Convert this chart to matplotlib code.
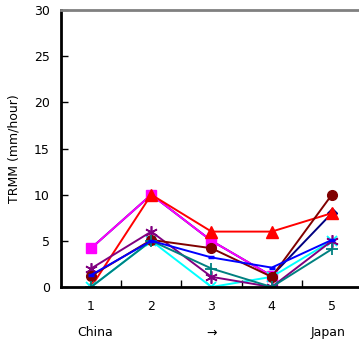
import matplotlib
matplotlib.use("Agg")
import matplotlib.pyplot as plt
import numpy as np

x = [1, 2, 3, 4, 5]
navy = [4.2, 10.0, 5.0, 1.2, 8.0]
magenta = [4.2, 10.0, 5.0, 1.2, np.nan]
red = [0.0, 10.0, 6.0, 6.0, 8.0]
cyan = [0.0, 5.0, 0.0, 1.1, 5.0]
purple = [2.0, 6.0, 1.1, 0.0, 5.0]
maroon = [1.2, 5.1, 4.2, 1.1, 10.0]
teal = [0.0, 5.0, 2.0, 0.0, 4.1]
blue = [1.3, 5.0, 3.2, 2.1, 5.1]
xlabels = ["1", "2", "3", "4", "5"]
yticks = [0, 5, 10, 15, 20, 25, 30]

plt.rcParams['font.family'] = ['DejaVu Sans']
fig = plt.figure(figsize=(3.59, 3.44), dpi=100)
W, H = 359, 344
ax = fig.add_axes([61/W, 1 - 287/H, 301/W, 277/H])

lw = 1.4
ax.plot(x, navy, color='#000080', marker='D', ms=5, lw=lw)
ax.plot(x, magenta, color='#FF00FF', marker='s', ms=7, lw=lw)
ax.plot(x, red, color='#FF0000', marker='^', ms=8, lw=lw)
ax.plot(x, cyan, color='#00FFFF', marker='x', ms=7, mew=1.3, lw=lw)
ax.plot(x, purple, color='#800080', marker=(6, 2, 0), ms=9, mew=1.2, lw=lw)
ax.plot(x, maroon, color='#800000', marker='o', ms=7, lw=lw)
ax.plot(x, teal, color='#008080', marker='+', ms=8, mew=1.3, lw=lw)
ax.plot(x, blue, color='#0000FF', marker='_', ms=5, mew=2.5, lw=lw)

ax.set_xlim(0.5, 5.5)
ax.set_ylim(0, 30)
ax.set_yticks(yticks)
ax.set_xticks([1.5, 2.5, 3.5, 4.5])
ax.set_xticklabels([])
ax.tick_params(axis='x', direction='in', length=5, width=1)
ax.tick_params(axis='y', direction='in', length=5, width=1, labelsize=9, pad=8)
for xi, lab in zip(x, xlabels):
    ax.text(xi, -0.07, lab, transform=ax.get_xaxis_transform(), ha='center', va='center', fontsize=9)
ax.text(1.07, -0.165, "China", transform=ax.get_xaxis_transform(), ha='center', va='center', fontsize=9)
ax.text(3, -0.165, "→", transform=ax.get_xaxis_transform(), ha='center', va='center', fontsize=9)
ax.text(4.93, -0.165, "Japan", transform=ax.get_xaxis_transform(), ha='center', va='center', fontsize=9)
ax.set_ylabel("TRMM (mm/hour)", fontsize=9, labelpad=10)

ax.spines['left'].set_linewidth(2)
ax.spines['bottom'].set_linewidth(2)
ax.spines['top'].set_color('#808080')
ax.spines['top'].set_linewidth(2)
ax.spines['right'].set_visible(False)

fig.savefig("out.png", dpi=100)
